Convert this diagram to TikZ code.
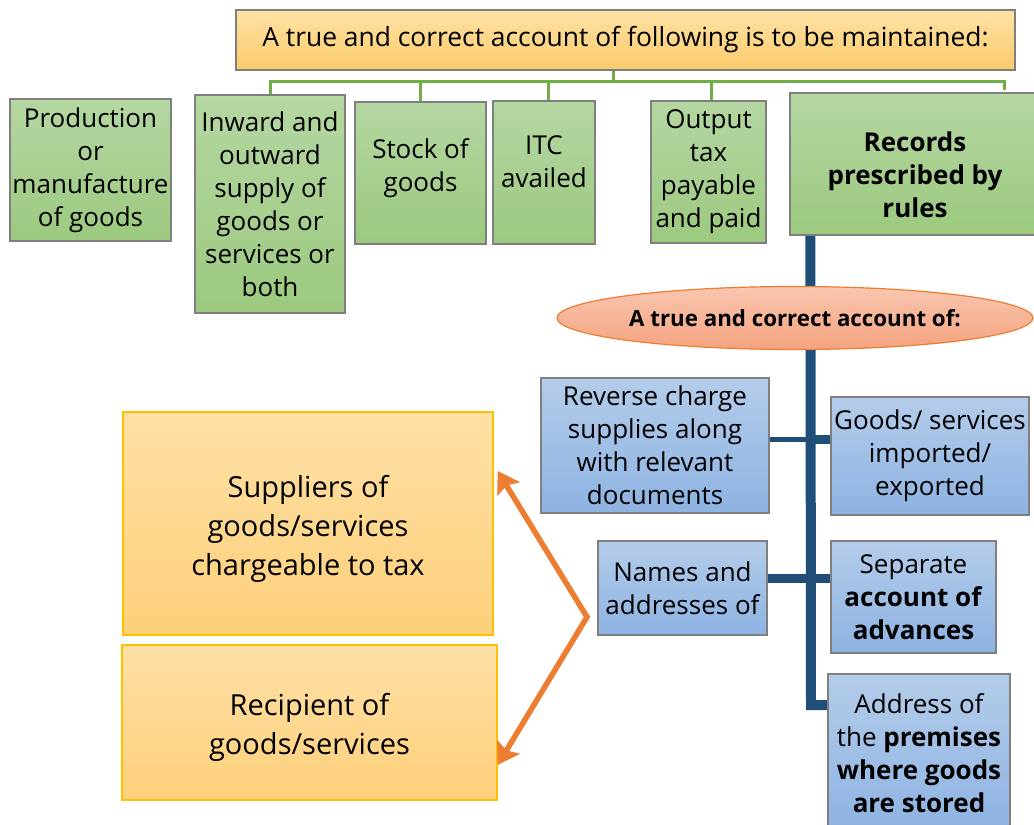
\documentclass[tikz,border=0pt]{standalone}
\usepackage{fontspec}
\setmainfont{Open Sans}
\usetikzlibrary{arrows.meta,shapes.geometric,calc,backgrounds}
\definecolor{gtop}{HTML}{B5D7A2}
\definecolor{gbot}{HTML}{9CC97F}
\definecolor{gline}{HTML}{70AD47}
\definecolor{btop}{HTML}{B4CCEA}
\definecolor{bbot}{HTML}{8DB3E2}
\definecolor{otop}{HTML}{FFE0A6}
\definecolor{obot}{HTML}{FDD07A}
\definecolor{ttop}{HTML}{FEE2A4}
\definecolor{tbot}{HTML}{FBCB6C}
\definecolor{etop}{HTML}{F9C6B0}
\definecolor{ebot}{HTML}{F4A37F}
\definecolor{eline}{HTML}{ED7D31}
\definecolor{trunkc}{HTML}{1F4E79}
\definecolor{gold}{HTML}{FFC000}
\definecolor{bordg}{HTML}{7F7F7F}
\newcommand\fsz[2]{\fontsize{#1}{#2}\selectfont}
\begin{document}
\begin{tikzpicture}[x=1pt,y=-1pt,
  box/.style={rectangle, inner sep=1pt, align=center, text=black},
  gbox/.style={box, draw=bordg, line width=1.2pt, top color=gtop, bottom color=gbot, font=\fsz{26}{33}},
  bbox/.style={box, draw=bordg, line width=1.2pt, top color=btop, bottom color=bbot, font=\fsz{26}{33}},
  obox/.style={box, draw=gold, line width=1.2pt, top color=otop, bottom color=obot, font=\fsz{29}{39}},
  glink/.style={draw=gline, line width=3pt},
  trunk/.style={draw=trunkc, line width=10pt, line join=miter},
  bthick/.style={draw=trunkc, line width=9pt},
  bthin/.style={draw=trunkc, line width=5pt},
  oarrow/.style={draw=eline, line width=5.5pt, line join=miter, {Stealth[length=21pt,width=26pt,inset=4pt]}-{Stealth[length=21pt,width=26pt,inset=4pt]}}
]
\useasboundingbox (0,0) rectangle (1034,825);

\node[box, draw=bordg, line width=1.2pt, top color=ttop, bottom color=tbot, font=\fsz{26.4}{30}, minimum width=779, minimum height=60] (title) at (625.5,40) {A true and correct account of following is to be maintained:};

\node[gbox, minimum width=161, minimum height=142] (prod) at (90.5,170) {Production\\or\\manufacture\\of goods};
\node[gbox, minimum width=150, minimum height=218] (inw) at (270,204) {Inward and\\outward\\supply of\\goods or\\services or\\both};
\node[gbox, minimum width=131, minimum height=142] (stock) at (420.5,173) {Stock of\\goods\\[-17pt]};
\node[gbox, minimum width=102, minimum height=143] (itc) at (544,172.5) {ITC\\availed\\[-12pt]};
\node[gbox, minimum width=115, minimum height=142] (outp) at (708.5,172) {Output\\tax\\payable\\and paid};
\node[gbox, minimum width=250, minimum height=142, font=\fsz{26}{33}\bfseries] (rec) at (915,164) {Records\\prescribed by\\rules\\[-55pt]};

\node[ellipse, draw=eline, line width=1.2pt, top color=etop, bottom color=ebot, minimum width=476, minimum height=63, inner sep=0pt, font=\fsz{22.3}{26}\bfseries] (ell) at (795,318) {A true and correct account of:};

\node[bbox, minimum width=228, minimum height=135] (rev) at (655,445.5) {Reverse charge\\supplies along\\with relevant\\documents};
\node[bbox, minimum width=198, minimum height=118] (goods) at (930,456) {Goods/ services\\imported/\\exported};
\node[bbox, minimum width=169, minimum height=94] (names) at (682.5,588) {Names and\\addresses of};
\node[bbox, minimum width=165, minimum height=112] (sep) at (913.5,597) {Separate\\\textbf{account of}\\\textbf{advances}};
\node[bbox, minimum width=182, minimum height=158] (addr) at (919,753) {Address of\\the \textbf{premises}\\\textbf{where goods}\\\textbf{are stored}};

\node[obox, minimum width=370, minimum height=223] (sup) at (308,523.5) {Suppliers of\\goods/services\\chargeable to tax\\[-43pt]};
\node[obox, minimum width=375, minimum height=155] (recp) at (309.5,722.5) {Recipient of\\goods/services\\[-41pt]};

\begin{scope}[on background layer]
  \fill[white] (0,0) rectangle (1034,825);
  \coordinate (bus) at (613,82);
  \draw[glink] ($(title.south)+(-12.5,0)$) -- (bus);
  \draw[glink] (inw.north) |- ($(rec.north east)+(-36,-11)$) -- ($(rec.north east)+(-36,-2)$);
  \draw[glink] (stock.north) -- (stock.north |- bus);
  \draw[glink] ($(itc.north)+(4,0)$) -- ($(itc.north |- bus)+(4,0)$);
  \draw[glink] ($(outp.north)+(2.5,0)$) -- ($(outp.north |- bus)+(2.5,0)$);

  \coordinate (tt) at ($(rec.south west)+(21,0)$);
  \coordinate (tb) at (811,705);
  \coordinate (j1) at (811,439);
  \coordinate (j2) at (811,578);
  \draw[trunk] (tt) -- (tb) -- (tb -| addr.west);
  \draw[bthin] (rev.east |- j1) -- (j1);
  \draw[bthick] (j1) -- (j1 -| goods.west);
  \draw[bthick] (names.east |- j2) -- (j2 -| sep.west);
\end{scope}

\coordinate (vtx) at (587,617);
\draw[oarrow] ($(sup.east)+(4,-52.5)$) -- (vtx) -- ($(recp.east)+(0,42.5)$);
\end{tikzpicture}
\end{document}
